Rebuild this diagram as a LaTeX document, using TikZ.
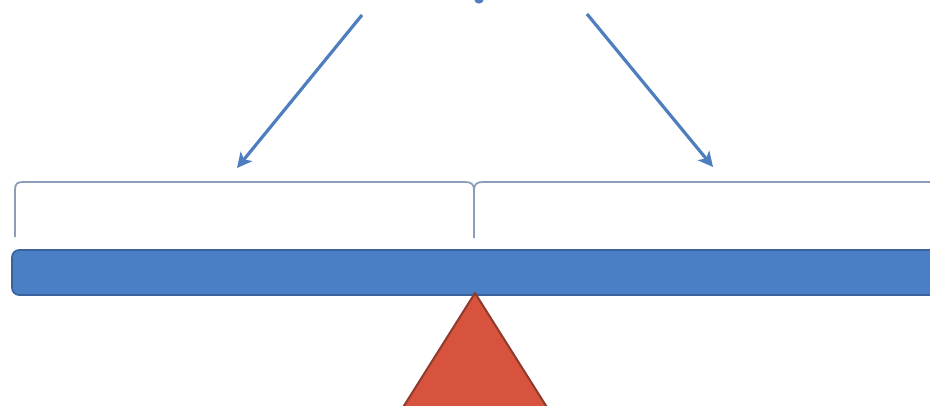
\documentclass[tikz,border=0pt]{standalone}
\usetikzlibrary{arrows.meta}
\definecolor{arrowblue}{HTML}{4F7EBF}
\definecolor{barblue}{HTML}{4A7FC6}
\definecolor{barborder}{HTML}{3A639E}
\definecolor{bracegray}{HTML}{8C9DB8}
\definecolor{fulcrumred}{HTML}{D7533D}
\definecolor{fulcrumborder}{HTML}{8E3A2C}
\tikzset{
  pointer/.style={draw=arrowblue, line width=3.2pt, -{Stealth[length=15pt,width=15pt,inset=4pt]}},
  bracestyle/.style={draw=bracegray, line width=1.8pt},
  beam/.style={draw=barborder, fill=barblue, line width=1.6pt, rounded corners=7pt},
  fulcrum/.style={draw=fulcrumborder, fill=fulcrumred, line width=2pt, line join=round},
}
\begin{document}
\begin{tikzpicture}[x=1pt,y=-1pt]
\useasboundingbox (0,0) rectangle (930,405);
% fragment of text at top
\fill[arrowblue] (479,0) ellipse (4.5 and 3.5);
% arrows
\coordinate (ls) at (362,15);
\coordinate (le) at (237,168);
\coordinate (rs) at (587,14);
\coordinate (re) at (713,167);
\draw[pointer] (ls) -- (le);
\draw[pointer] (rs) -- (re);
% brace
\coordinate (bl) at (15,237);
\coordinate (bm) at (474,238);
\draw[bracestyle] (bl) -- (15,190) .. controls (15,184) and (17,182) .. (23,182)
  -- (465,182) .. controls (471,182) and (474,184) .. (474,190) -- (bm);
\draw[bracestyle] (474,190) .. controls (474,184) and (477,182) .. (483,182) -- (940,182);
% beam
\draw[beam] (12,250) rectangle (960,295);
% fulcrum
\coordinate (apex) at (475,293);
\draw[fulcrum] (apex) -- (555,420) -- (395,420) -- cycle;
\end{tikzpicture}
\end{document}
